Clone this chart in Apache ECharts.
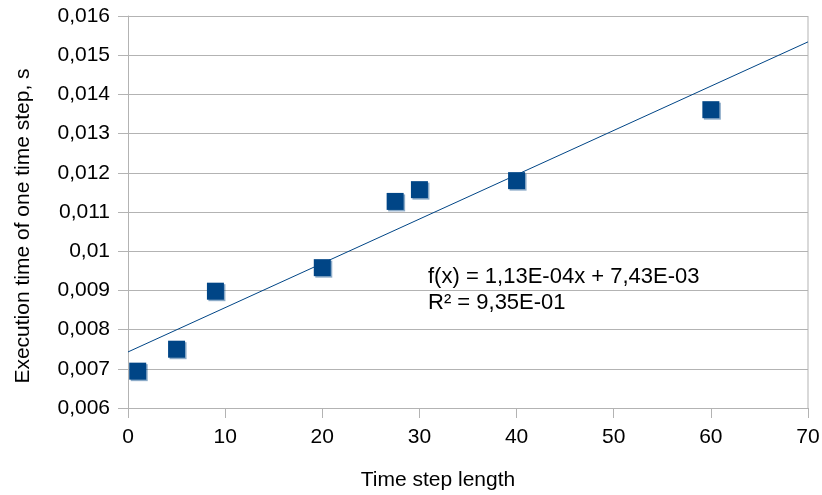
<!DOCTYPE html>
<html>
<head>
<meta charset="utf-8">
<script src="https://cdn.jsdelivr.net/npm/echarts@6/dist/echarts.min.js"></script>
<style>
html, body { margin: 0; padding: 0; background: #fff; }
#main { width: 822px; height: 495px; }
</style>
</head>
<body>
<div id="main"></div>
<script>
// measured points
var stepLength = [1, 5, 9, 20, 27.5, 30, 40, 60];
var execTime = [0.00694, 0.0075, 0.00898, 0.00958, 0.01127, 0.01157, 0.0118, 0.01361];
// linear trend line f(x) = a*x + b
var trendSlope = 1.13e-4;
var trendIntercept = 7.43e-3;
var trendRange = [0, 70];
var trendLabel = ['f(x) = 1,13E-04x + 7,43E-03', 'R² = 9,35E-01'];

var font = 'Liberation Sans, Arial, sans-serif';
var blue = '#004586';

var points = stepLength.map(function(x, i){ return [x, execTime[i]]; });
var trend = trendRange.map(function(x){ return [x, trendSlope * x + trendIntercept]; });

function comma(v, digits){
    return v.toFixed(digits).replace('.', ',');
}

var myChart = echarts.init(document.getElementById('main'));
var option = {
    animation: false,
    backgroundColor: '#fff',
    grid: { left: 128, right: 14, top: 16, bottom: 87, outerBoundsMode: 'none' },
    xAxis: {
        type: 'value',
        min: 0, max: 70, interval: 10,
        name: 'Time step length',
        nameLocation: 'middle',
        nameGap: 62,
        // title sits a bit left of the plot centre in the original
        nameTextStyle: { fontFamily: font, fontSize: 21, color: '#000', padding: [0, 60, 0, 0] },
        axisLine: { show: true, lineStyle: { color: '#b3b3b3', width: 1 } },
        axisTick: { show: true, length: 10, lineStyle: { color: '#b3b3b3' } },
        axisLabel: { fontFamily: font, fontSize: 21, color: '#000', margin: 19 },
        splitLine: { show: false }
    },
    yAxis: {
        type: 'value',
        min: 0.006, max: 0.016, interval: 0.001,
        name: 'Execution time of one time step, s',
        nameLocation: 'middle',
        nameGap: 94,
        nameTextStyle: { fontFamily: font, fontSize: 21, color: '#000', padding: [0, 28, 0, 0] },
        axisLine: { show: true, lineStyle: { color: '#b3b3b3', width: 1 } },
        axisTick: { show: true, length: 10, lineStyle: { color: '#b3b3b3' } },
        axisLabel: {
            fontFamily: font, fontSize: 21, color: '#000', margin: 18,
            formatter: function(v){ return comma(v, 3).replace(/0+$/, '').replace(/,$/, ''); }
        },
        splitLine: { show: true, lineStyle: { color: '#b3b3b3', width: 1 } }
    },
    graphic: [
        {
            type: 'line',
            shape: { x1: 808, y1: 16, x2: 808, y2: 408 },
            style: { stroke: '#b3b3b3', lineWidth: 1 }
        },
        {
            type: 'text',
            left: 428, top: 264,
            style: {
                text: trendLabel.join('\n'),
                font: '22px ' + font,
                fill: '#000',
                lineHeight: 26
            }
        }
    ],
    series: [
        {
            name: 'trend',
            type: 'line',
            data: trend,
            symbol: 'none',
            lineStyle: { color: blue, width: 1 },
            z: 2
        },
        {
            name: 'time',
            type: 'scatter',
            data: points,
            symbol: 'rect',
            symbolSize: 17,
            itemStyle: {
                color: blue,
                opacity: 1,
                shadowColor: 'rgba(0,69,134,0.45)',
                shadowOffsetX: 1.5,
                shadowOffsetY: 1.5,
                shadowBlur: 0
            },
            z: 3
        }
    ]
};
myChart.setOption(option);
</script>
</body>
</html>
